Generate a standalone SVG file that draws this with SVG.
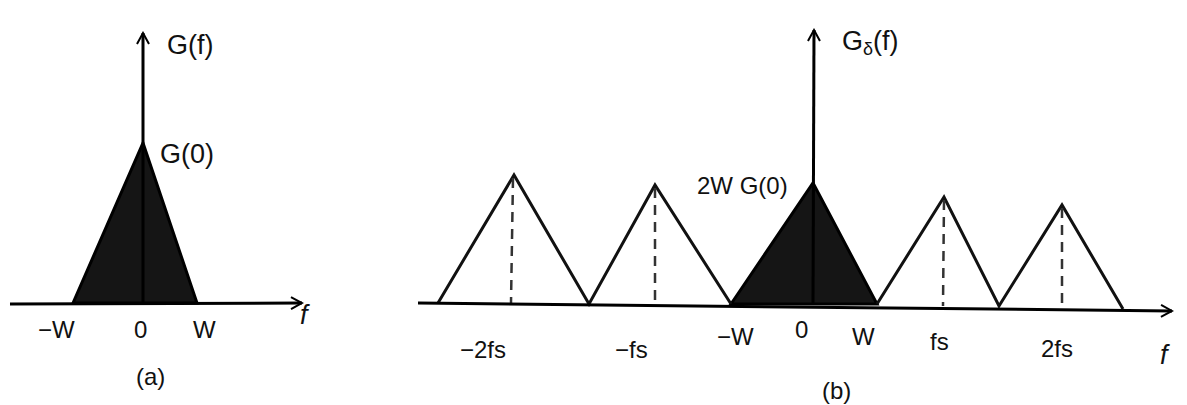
<svg xmlns="http://www.w3.org/2000/svg" width="1187" height="405" viewBox="0 0 1187 405">
<style>
.ax{stroke:#000;stroke-width:3;fill:none}
.tri{stroke:#111;stroke-width:3;fill:none;stroke-linejoin:miter}
.fill{stroke:#000;stroke-width:3;fill:#151515}
.dash{stroke:#333;stroke-width:2.5;stroke-dasharray:10,7;fill:none}
.t{font-family:"Liberation Sans",Arial,sans-serif;font-size:27px;fill:#111}
.s{font-family:"Liberation Sans",Arial,sans-serif;font-size:24px;fill:#111}
</style>
<defs>
<marker id="ar" viewBox="0 0 14 14" refX="12" refY="7" markerWidth="14" markerHeight="14" markerUnits="userSpaceOnUse" orient="auto">
<path d="M1,1 L12,7 L1,13" fill="none" stroke="#000" stroke-width="2"/>
</marker>
</defs>
<rect width="1187" height="405" fill="#fff"/>

<g id="plot-a">
  <polygon class="fill" points="73,303 143,143 197,303" fill="#2a2a2a"/>
  <line class="ax" x1="10" y1="304" x2="302" y2="303" marker-end="url(#ar)"/>
  <line class="ax" x1="143" y1="303" x2="143" y2="33" marker-end="url(#ar)"/>
  <text class="t" x="167" y="54">G(f)</text>
  <text class="t" x="160" y="163">G(0)</text>
  <text class="s" x="38" y="338">−W</text>
  <text class="s" x="134" y="338">0</text>
  <text class="s" x="193" y="338">W</text>
  <text class="t" x="300" y="324" font-style="italic">f</text>
  <text class="s" x="136" y="385">(a)</text>
</g>

<g id="plot-b">
  <polygon class="fill" points="731,304 813,183 877,304"/>
  <polyline class="tri" points="438,303 514,175 589,304 655,185 731,304"/>
  <polyline class="tri" points="877,304 944,197 999,306 1062,205 1123,309"/>
  <line class="dash" x1="513" y1="178" x2="511" y2="303"/>
  <line class="dash" x1="655" y1="188" x2="655" y2="305"/>
  <line class="dash" x1="944" y1="200" x2="943" y2="306"/>
  <line class="dash" x1="1062" y1="208" x2="1062" y2="309"/>
  <line class="ax" x1="418" y1="303" x2="1172" y2="311" marker-end="url(#ar)"/>
  <line class="ax" x1="813" y1="304" x2="814" y2="30" marker-end="url(#ar)"/>
  <text class="t" x="842" y="50">G<tspan font-size="18" dy="5">δ</tspan><tspan dy="-5">(f)</tspan></text>
  <text class="s" x="697" y="194">2W G(0)</text>
  <text class="s" x="460" y="358">−2fs</text>
  <text class="s" x="615" y="358">−fs</text>
  <text class="s" x="717" y="345">−W</text>
  <text class="s" x="795" y="338">0</text>
  <text class="s" x="852" y="345">W</text>
  <text class="s" x="930" y="350">fs</text>
  <text class="s" x="1041" y="357">2fs</text>
  <text class="t" x="1160" y="364" font-style="italic">f</text>
  <text class="s" x="822" y="399">(b)</text>
</g>
</svg>
